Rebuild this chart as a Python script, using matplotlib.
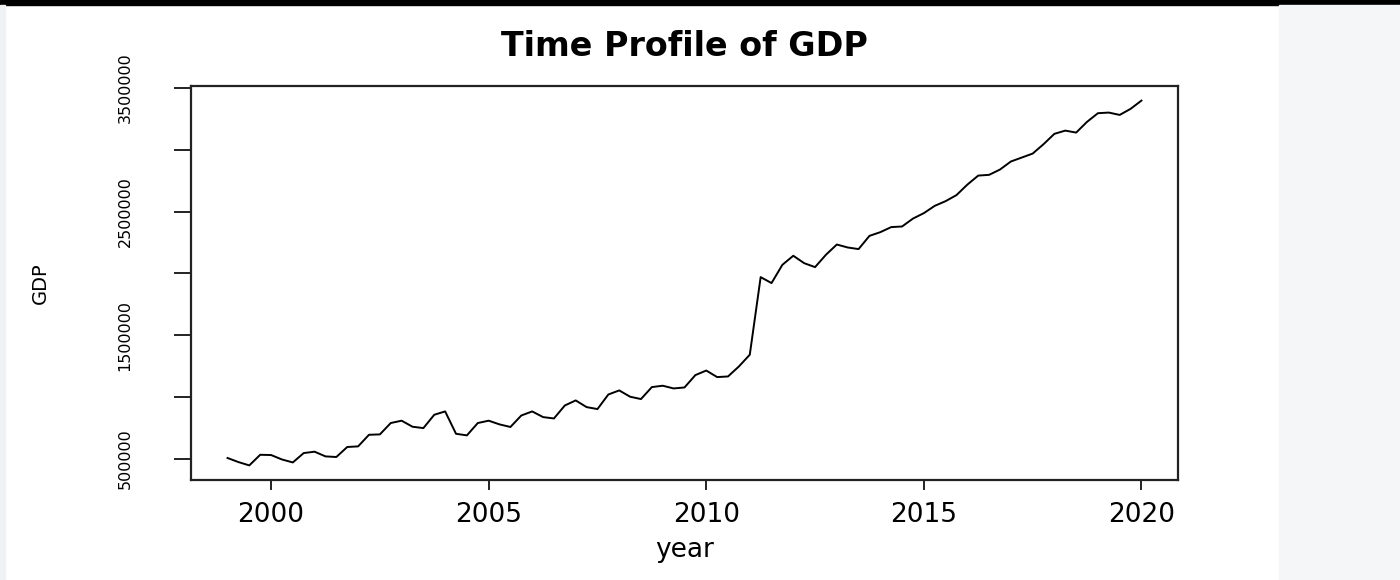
import matplotlib.pyplot as plt
from matplotlib.patches import Rectangle

# quarterly GDP series, 1999 Q1 .. 2020 Q1 (ts start=1999, frequency=4)
start_year = 1999
freq = 4
gdp = [506000, 473000, 446000, 532000, 530000, 494000, 470000, 546000,
       557000, 519000, 514000, 595000, 600000, 694000, 697000, 789000,
       808000, 759000, 748000, 856000, 883000, 702000, 689000, 789000,
       808000, 778000, 757000, 850000, 883000, 837000, 826000, 931000,
       972000, 918000, 902000, 1020000, 1053000, 1002000, 983000, 1080000,
       1091000, 1069000, 1077000, 1177000, 1214000, 1161000, 1166000, 1247000,
       1342000, 1970000, 1922000, 2070000, 2143000, 2083000, 2051000, 2151000,
       2234000, 2210000, 2197000, 2304000, 2334000, 2375000, 2380000, 2444000,
       2488000, 2547000, 2585000, 2634000, 2719000, 2792000, 2798000, 2841000,
       2906000, 2938000, 2970000, 3046000, 3130000, 3156000, 3140000, 3227000,
       3297000, 3302000, 3283000, 3332000, 3399000]
year = [start_year + i / freq for i in range(len(gdp))]

x_ticks = [2000, 2005, 2010, 2015, 2020]
y_ticks = [500000, 1000000, 1500000, 2000000, 2500000, 3000000, 3500000]
# R drops every other y label because they would overlap
y_labels = ['500000', '', '1500000', '', '2500000', '', '3500000']

W, H = 1400, 580
fig = plt.figure(figsize=(W / 100, H / 100), dpi=100)
fig.patch.set_facecolor('white')

# screenshot framing: black bar on top, grey side panel right, faint strip left
fig.patches.append(Rectangle((0, 1 - 5 / H), 1, 5 / H, transform=fig.transFigure,
                             color='black', zorder=0))
fig.patches.append(Rectangle((1279 / W, 0), 1 - 1279 / W, 1 - 5 / H,
                             transform=fig.transFigure, color='#f5f6f8', zorder=0))
fig.patches.append(Rectangle((0, 0), 5 / W, 1 - 5 / H, transform=fig.transFigure,
                             color='#f0f1f3', zorder=0))

ax = fig.add_axes([191 / W, 100 / H, 987 / W, 394 / H])
ax.plot(year, gdp, color='black', linewidth=1.4)
ax.margins(x=0.04, y=0.04)

ax.set_xticks(x_ticks)
ax.set_yticks(y_ticks)
ax.set_yticklabels(y_labels)

for s in ax.spines.values():
    s.set_color('#222222')
    s.set_linewidth(1.6)

ax.tick_params(axis='x', direction='out', length=7.5, width=1.4, color='#222222',
               labelsize=19, pad=8)
ax.tick_params(axis='y', direction='out', length=12, width=1.4, color='#222222',
               labelsize=11.5, labelrotation=90, pad=30)
plt.setp(ax.get_yticklabels(), va='center')

ax.set_xlabel('year', fontsize=19)
ax.xaxis.set_label_coords(0.5, -0.178)
ax.xaxis.label.set_va('center')
ax.set_ylabel('GDP', fontsize=14)
ax.yaxis.set_label_coords(-0.153, 0.5)
ax.yaxis.label.set_va('center')

fig.text((191 + 1178) / 2 / W, 1 - 46 / H, 'Time Profile of GDP',
         ha='center', va='center', fontsize=24, fontweight='bold')

fig.savefig('out.png', dpi=100)
